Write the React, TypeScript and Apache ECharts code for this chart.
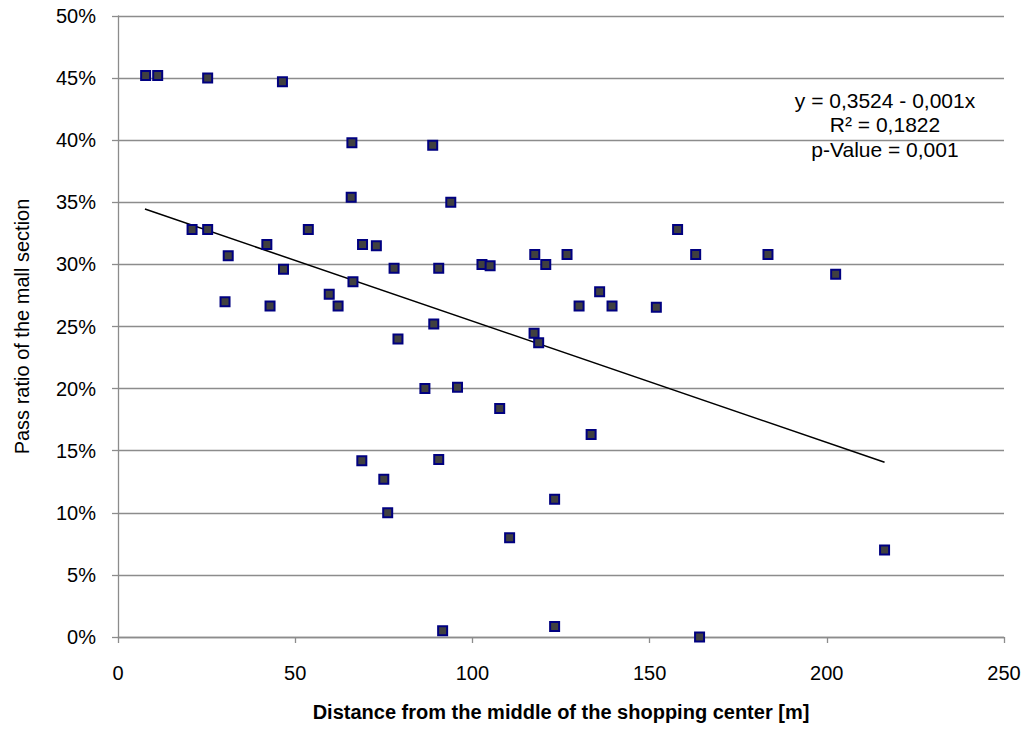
import React, { useEffect, useRef } from "react";
import * as echarts from "echarts";

// Distance from the middle of the shopping center [m]
const distances: number[] = [
  7.8, 11.2, 25.3, 46.4, 66.0, 88.8, 65.8, 93.9, 20.9, 25.3,
  53.7, 157.9, 42.0, 69.0, 72.9, 31.1, 117.6, 126.7, 163.0, 183.4,
  102.7, 105.0, 120.7, 46.7, 77.9, 90.5, 202.5, 66.3, 135.9, 59.6,
  30.2, 42.9, 62.1, 130.1, 139.4, 151.9, 89.1, 117.4, 79.0, 118.7,
  95.8, 86.6, 107.7, 133.5, 90.5, 68.8, 75.0, 123.2, 76.1, 110.5,
  216.3, 91.6, 123.2, 164.1,
];
// Pass ratio of the mall section [%]
const passRatios: number[] = [
  45.2, 45.2, 45.0, 44.7, 39.8, 39.6, 35.4, 35.0, 32.8, 32.8,
  32.8, 32.8, 31.6, 31.6, 31.5, 30.7, 30.8, 30.8, 30.8, 30.8,
  30.0, 29.9, 30.0, 29.6, 29.7, 29.7, 29.2, 28.6, 27.8, 27.6,
  27.0, 26.65, 26.65, 26.65, 26.65, 26.55, 25.2, 24.45, 24.0, 23.7,
  20.1, 20.0, 18.4, 16.3, 14.3, 14.2, 12.7, 11.1, 10.0, 8.0,
  7.0, 0.5, 0.85, 0.0,
];
// Linear trend line end points
const trendX: number[] = [7.6, 216.3];
const trendY: number[] = [34.46, 14.07];

const annotationLines: string[] = [
  "y = 0,3524 - 0,001x",
  "R² = 0,1822",
  "p-Value = 0,001",
];

const FONT = "'Liberation Sans', Arial, sans-serif";
const GRID_COLOR = "#8c8c8c";

export default function App() {
  const ref = useRef<HTMLDivElement>(null);
  useEffect(() => {
    document.body.style.margin = "0";
    if (!ref.current) return;
    const chart = echarts.init(ref.current, null, { renderer: "svg" });
    const scatterData = distances.map((x, i) => [x, passRatios[i]]);
    const trendData = trendX.map((x, i) => [x, trendY[i]]);
    chart.setOption({
      animation: false,
      backgroundColor: "#ffffff",
      textStyle: { fontFamily: FONT },
      grid: { left: 118, right: 21, top: 16, bottom: 93, containLabel: false },
      xAxis: {
        type: "value",
        min: 0,
        max: 250,
        interval: 50,
        name: "Distance from the middle of the shopping center [m]",
        nameLocation: "middle",
        nameGap: 65,
        nameTextStyle: { fontSize: 20, fontWeight: "bold", color: "#000", fontFamily: FONT },
        axisLine: { show: true, lineStyle: { color: GRID_COLOR, width: 1.3 } },
        axisTick: { show: true, length: 6, lineStyle: { color: GRID_COLOR, width: 1.3 } },
        axisLabel: { fontSize: 20, color: "#000", margin: 26, fontFamily: FONT },
        splitLine: { show: false },
      },
      yAxis: {
        type: "value",
        min: 0,
        max: 50,
        interval: 5,
        name: "Pass ratio of the mall section",
        nameLocation: "middle",
        nameGap: 86,
        nameTextStyle: { fontSize: 20, color: "#000", fontFamily: FONT },
        axisLine: { show: true, lineStyle: { color: GRID_COLOR, width: 1.3 } },
        axisTick: { show: true, length: 6, lineStyle: { color: GRID_COLOR, width: 1.3 } },
        axisLabel: { fontSize: 20, color: "#000", margin: 22, formatter: "{value}%", fontFamily: FONT },
        splitLine: { show: true, lineStyle: { color: GRID_COLOR, width: 1.3 } },
      },
      series: [
        {
          type: "line",
          data: trendData,
          showSymbol: false,
          symbol: "none",
          lineStyle: { color: "#000", width: 1.5 },
          z: 2,
        },
        {
          type: "scatter",
          data: scatterData,
          symbol: "rect",
          symbolSize: 9,
          itemStyle: { color: "#404040", borderColor: "#000080", borderWidth: 2, opacity: 1 },
          z: 3,
        },
      ],
      graphic: annotationLines.map((t, i) => ({
        type: "text",
        x: 885,
        y: [100.5, 124.5, 149][i],
        style: {
          text: t,
          fontSize: 21,
          fontFamily: FONT,
          fill: "#000",
          align: "center",
          verticalAlign: "middle",
        },
        z: 10,
      })),
    });
    return () => chart.dispose();
  }, []);
  return <div ref={ref} style={{ width: 1025, height: 730 }} />;
}
